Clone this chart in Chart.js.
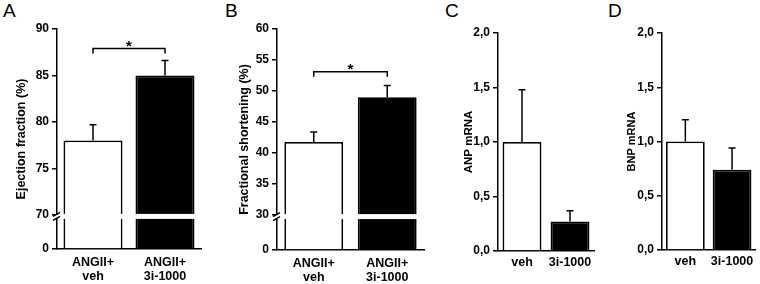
<!DOCTYPE html>
<html>
<head>
<meta charset="utf-8">
<script src="https://cdn.jsdelivr.net/npm/chart.js@4.4.1/dist/chart.umd.min.js"></script>
<style>
    body { margin: 0; background: #fff; width: 760px; height: 284px; position: relative; overflow: hidden; font-family: 'Liberation Sans', Arial, sans-serif; }
    canvas { position: absolute; top: 0; }
    .letter { position: absolute; top: 1px; font-size: 19px; line-height: 19px; color: #000; }
</style>
</head>
<body>
<div class="letter" style="left:3px">A</div>
<div class="letter" style="left:225px">B</div>
<div class="letter" style="left:445px">C</div>
<div class="letter" style="left:608px">D</div>
<canvas id="chartA" width="204" height="284" style="left:0px"></canvas>
<canvas id="chartB" width="195" height="284" style="left:232px"></canvas>
<canvas id="chartC" width="147" height="284" style="left:450px"></canvas>
<canvas id="chartD" width="147" height="284" style="left:612px"></canvas>
<script>
// Data (mean and upper error)
const groupsAngII = [['ANGII+', 'veh'], ['ANGII+', '3i-1000']];
const groupsMrna = ['veh', '3i-1000'];

const ejectionFraction = [78.0, 85.0];
const ejectionFractionErr = [1.7, 1.6];
const fractionalShortening = [41.8, 49.0];
const fractionalShorteningErr = [1.6, 1.9];
const anpMrna = [1.0, 0.27];
const anpMrnaErr = [0.48, 0.10];
const bnpMrna = [1.0, 0.74];
const bnpMrnaErr = [0.20, 0.20];

// Tick values
const ticksEF = [0, 70, 75, 80, 85, 90];
const ticksFS = [0, 30, 35, 40, 45, 50, 55, 60];
const ticksMrna = [0, 0.5, 1.0, 1.5, 2.0];

const barColors = ['#ffffff', '#000000'];

Chart.defaults.font.family = "'Liberation Sans', Arial, sans-serif";
Chart.defaults.color = '#000';

// Linear scale with a break: everything below breakAt squeezed into lowPart of the height
class BrokenLinearScale extends Chart.LinearScale {
    getPixelForValue(value) {
        if (value === null || value === undefined) return NaN;
        const brk = this.options.breakAt;
        const low = this.options.lowPart;
        const h = this.bottom - this.top;
        let frac;
        if (value <= brk) {
            frac = (value - this.min) / (brk - this.min) * low;
        } else {
            frac = low + (value - brk) / (this.max - brk) * (1 - low);
        }
        return this.bottom - frac * h;
    }
    getValueForPixel(pixel) {
        const brk = this.options.breakAt;
        const low = this.options.lowPart;
        const frac = (this.bottom - pixel) / (this.bottom - this.top);
        if (frac <= low) return this.min + frac / low * (brk - this.min);
        return brk + (frac - low) / (1 - low) * (this.max - brk);
    }
}
BrokenLinearScale.id = 'brokenLinear';
BrokenLinearScale.defaults = Chart.LinearScale.defaults;
Chart.register(BrokenLinearScale);

// Error bars, significance bracket and axis break marks
const panelExtras = {
    id: 'panelExtras',
    afterDatasetsDraw(chart, args, opts) {
        const ctx = chart.ctx;
        const yScale = chart.scales.y;
        const area = chart.chartArea;
        const meta = chart.getDatasetMeta(0);
        const values = chart.data.datasets[0].data;
        ctx.save();
        ctx.strokeStyle = '#000';
        ctx.lineWidth = 1.5;

        if (opts.breakAt !== undefined) {
            const yb = yScale.getPixelForValue(opts.breakAt);
            ctx.fillStyle = '#fff';
            ctx.fillRect(area.left + 1.5, yb - 1, area.right - area.left, 5);
            ctx.fillRect(area.left - 1.5, yb, 3, 3);
            ctx.beginPath();
            [yb - 0.5, yb + 3.5].forEach(yy => {
                ctx.moveTo(area.left - 4, yy + 2);
                ctx.lineTo(area.left + 3, yy - 2);
            });
            ctx.stroke();
        }

        meta.data.forEach((bar, i) => {
            const top = yScale.getPixelForValue(values[i] + opts.errors[i]);
            ctx.beginPath();
            ctx.moveTo(bar.x, bar.y);
            ctx.lineTo(bar.x, top);
            ctx.moveTo(bar.x - 3.5, top);
            ctx.lineTo(bar.x + 3.5, top);
            ctx.stroke();
        });

        if (opts.bracket) {
            const x0 = meta.data[0].x;
            const x1 = meta.data[1].x;
            const py = yScale.getPixelForValue(opts.bracket.level);
            ctx.beginPath();
            ctx.moveTo(x0, py + 5);
            ctx.lineTo(x0, py);
            ctx.lineTo(x1, py);
            ctx.lineTo(x1, py + 5);
            ctx.stroke();
            ctx.fillStyle = '#000';
            ctx.font = "bold 15px 'Liberation Sans', Arial, sans-serif";
            ctx.textAlign = 'center';
            ctx.textBaseline = 'alphabetic';
            ctx.fillText(opts.bracket.label, (x0 + x1) / 2, py + 2);
        }
        ctx.restore();
    }
};

function makePanel(id, p) {
    const yScale = {
        type: p.breakAt !== undefined ? 'brokenLinear' : 'linear',
        min: p.ticks[0],
        max: p.ticks[p.ticks.length - 1],
        breakAt: p.breakAt,
        lowPart: p.lowPart,
        afterBuildTicks: (scale) => { scale.ticks = p.ticks.map(v => ({ value: v })); },
        afterFit: (scale) => { scale.width = p.axisWidth; },
        border: { display: true, color: '#000', width: 1.5 },
        grid: { drawOnChartArea: false, color: '#000', lineWidth: 1.5, tickLength: 5 },
        ticks: {
            padding: 3,
            font: { size: 12, weight: 'bold' },
            callback: p.format
        },
        title: {
            display: true,
            text: p.title,
            font: { size: p.titleSize, weight: 'bold' },
            padding: { top: p.titlePad, bottom: 0 }
        }
    };
    return new Chart(document.getElementById(id), {
        type: 'bar',
        data: {
            labels: p.labels,
            datasets: [{
                data: p.values,
                backgroundColor: barColors,
                borderColor: '#000',
                borderWidth: 1.8,
                barPercentage: p.barPct,
                categoryPercentage: 1
            }]
        },
        options: {
            responsive: false,
            animation: false,
            layout: { padding: { top: p.top, right: 3, left: 0, bottom: 0 } },
            plugins: {
                legend: { display: false },
                tooltip: { enabled: false },
                panelExtras: { errors: p.errors, bracket: p.bracket, breakAt: p.breakAt }
            },
            scales: {
                x: {
                    afterFit: (scale) => { scale.height = 284 - p.bottom; },
                    border: { display: true, color: '#000', width: 1.5 },
                    grid: { display: false, drawTicks: false },
                    ticks: {
                        padding: p.labelPad,
                        font: { size: 12.5, weight: 'bold', lineHeight: 1.1 },
                        maxRotation: 0
                    }
                },
                y: yScale
            }
        },
        plugins: [panelExtras]
    });
}

const intLabel = (v) => String(v);
const commaLabel = (v) => v.toFixed(1).replace('.', ',');

makePanel('chartA', {
    labels: groupsAngII, values: ejectionFraction, errors: ejectionFractionErr,
    ticks: ticksEF, breakAt: 70, lowPart: 0.155, format: intLabel,
    title: 'Ejection fraction (%)', titleSize: 12.5, titlePad: 14.5,
    axisWidth: 57, top: 29, bottom: 249, barPct: 0.82, labelPad: 7,
    bracket: { level: 87.9, label: '*' }
});

makePanel('chartB', {
    labels: groupsAngII, values: fractionalShortening, errors: fractionalShorteningErr,
    ticks: ticksFS, breakAt: 30, lowPart: 0.158, format: intLabel,
    title: 'Fractional shortening (%)', titleSize: 12.5, titlePad: 5.5,
    axisWidth: 45, top: 29, bottom: 250, barPct: 0.8, labelPad: 7,
    bracket: { level: 53.1, label: '*' }
});

makePanel('chartC', {
    labels: groupsMrna, values: anpMrna, errors: anpMrnaErr,
    ticks: ticksMrna, format: commaLabel,
    title: 'ANP mRNA', titleSize: 11.5, titlePad: 11.5,
    axisWidth: 48, top: 33, bottom: 251, barPct: 0.81, labelPad: 5
});

makePanel('chartD', {
    labels: groupsMrna, values: bnpMrna, errors: bnpMrnaErr,
    ticks: ticksMrna, format: commaLabel,
    title: 'BNP mRNA', titleSize: 11, titlePad: 13,
    axisWidth: 50, top: 33, bottom: 250, barPct: 0.83, labelPad: 5
});
</script>
</body>
</html>
